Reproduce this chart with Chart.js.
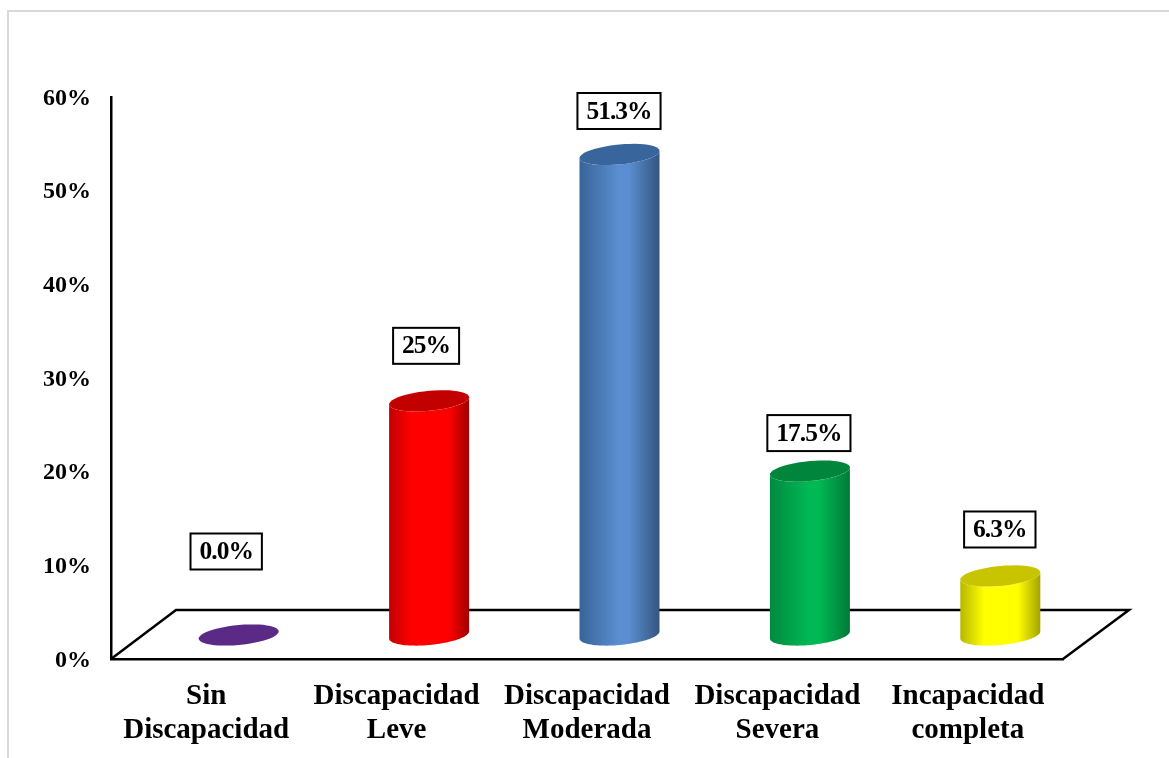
<!DOCTYPE html>
<html lang="es">
<head>
<meta charset="utf-8">
<title>Grado de discapacidad</title>
<script src="https://cdn.jsdelivr.net/npm/chart.js@4"></script>
<style>
  html, body { margin: 0; padding: 0; background: #ffffff; overflow: hidden; }
  canvas { display: block; }
</style>
</head>
<body>
<canvas id="chart" width="1169" height="758"></canvas>
<script>
// Chart data
const categories = [
  ["Sin", "Discapacidad"],
  ["Discapacidad", "Leve"],
  ["Discapacidad", "Moderada"],
  ["Discapacidad", "Severa"],
  ["Incapacidad", "completa"]
];
const percentages = [0, 25, 51.3, 17.5, 6.3];
const valueLabels = ["0.0%", "25%", "51.3%", "17.5%", "6.3%"];
const yTickMax = 60;
const yTickStep = 10;

// Cylinder colours: side-left, side-centre, side-right, cap
const flatColors = ["#5B2A86", "#FF0000", "#558ACB", "#00B050", "#FFFF00"];
const sideShades = [
  ["#5B2A86", "#5B2A86", "#5B2A86"],
  ["#C00000", "#FF0000", "#A00000"],
  ["#386398", "#5A8ED0", "#34557F"],
  ["#008A40", "#00B854", "#007A38"],
  ["#B8B800", "#FFFF00", "#A3A300"]
];
// Gradient stops where the bright band starts and ends
const brightBand = [[0.3, 0.7], [0.28, 0.74], [0.48, 0.62], [0.48, 0.62], [0.3, 0.72]];
const capColors = ["#5B2A86", "#C20000", "#38659B", "#00863C", "#C9C400"];

// Where each value box sits relative to the top of its cylinder
const labelShift = [[-12.5, -83.5], [-3, -55], [-0.5, -43.5], [-1, -38], [-0.5, -46.5]];

// Depth of the floor: the columns stand halfway along it
const FLOOR_DX = 65;
const FLOOR_DY = 49;
const BAR_LIFT = 24;
const SERIF = '"Liberation Serif", "Times New Roman", serif';

function ellipsePath(ctx, cx, cy, from, to, move) {
  // Slightly tilted ellipse, the left end lower than the right
  const rx = 40, tilt = 3.6, ry = 10, steps = 48;
  for (let i = 0; i <= steps; i++) {
    const t = from + (to - from) * i / steps;
    const x = cx + rx * Math.cos(t);
    const y = cy - tilt * Math.cos(t) + ry * Math.sin(t);
    if (i === 0 && move) ctx.moveTo(x, y); else ctx.lineTo(x, y);
  }
}

function drawCylinder(ctx, cx, top, base, index) {
  const left = cx - 40, right = cx + 40;
  if (base - top > 0.5) {
    const g = ctx.createLinearGradient(left, 0, right, 0);
    const s = sideShades[index];
    g.addColorStop(0, s[0]);
    g.addColorStop(brightBand[index][0], s[1]);
    g.addColorStop(brightBand[index][1], s[1]);
    g.addColorStop(1, s[2]);
    ctx.beginPath();
    ellipsePath(ctx, cx, base, Math.PI, 0, true);
    ellipsePath(ctx, cx, top, 0, Math.PI, false);
    ctx.closePath();
    ctx.fillStyle = g;
    ctx.fill();
  }
  ctx.beginPath();
  ellipsePath(ctx, cx, top, 0, Math.PI * 2, true);
  ctx.closePath();
  ctx.fillStyle = capColors[index];
  ctx.fill();
}

const scenePlugin = {
  id: "cylinderScene",
  beforeDraw(chart) {
    // Outer frame, open on the right and bottom edges
    const { ctx, width, height } = chart;
    ctx.save();
    ctx.strokeStyle = "#D9D9D9";
    ctx.lineWidth = 2;
    ctx.beginPath();
    ctx.moveTo(8, height);
    ctx.lineTo(8, 11);
    ctx.lineTo(width, 11);
    ctx.stroke();
    ctx.restore();
  },
  beforeDatasetsDraw(chart) {
    // Floor parallelogram behind the columns
    const { ctx, chartArea: a } = chart;
    ctx.save();
    ctx.strokeStyle = "#000000";
    ctx.lineWidth = 2.5;
    ctx.lineJoin = "miter";
    ctx.beginPath();
    ctx.moveTo(a.left, a.bottom);
    ctx.lineTo(a.left + FLOOR_DX, a.bottom - FLOOR_DY);
    ctx.lineTo(a.right + FLOOR_DX + 1, a.bottom - FLOOR_DY);
    ctx.lineTo(a.right, a.bottom);
    ctx.stroke();
    ctx.restore();
  },
  beforeDatasetDraw(chart, args) {
    // Replace the flat rectangles with shaded cylinders
    const { ctx } = chart;
    const meta = args.meta;
    ctx.save();
    meta.data.forEach((bar, i) => {
      drawCylinder(ctx, bar.x + FLOOR_DX / 2, bar.y - BAR_LIFT, bar.base - BAR_LIFT, i);
    });
    ctx.restore();
    return false;
  },
  afterDatasetsDraw(chart) {
    // Boxed value labels
    const { ctx } = chart;
    const meta = chart.getDatasetMeta(0);
    ctx.save();
    ctx.font = "bold 25.5px " + SERIF;
    ctx.letterSpacing = "-1px";
    ctx.textAlign = "center";
    ctx.textBaseline = "middle";
    meta.data.forEach((bar, i) => {
      const text = valueLabels[i];
      const cx = bar.x + FLOOR_DX / 2 + labelShift[i][0];
      const cy = bar.y - BAR_LIFT + labelShift[i][1];
      const w = ctx.measureText(text).width + 18;
      const h = 36;
      ctx.fillStyle = "#ffffff";
      ctx.fillRect(cx - w / 2, cy - h / 2, w, h);
      ctx.strokeStyle = "#000000";
      ctx.lineWidth = 2;
      ctx.strokeRect(cx - w / 2, cy - h / 2, w, h);
      ctx.fillStyle = "#000000";
      ctx.fillText(text, cx, cy + 1);
    });
    ctx.restore();
  }
};

new Chart(document.getElementById("chart"), {
  type: "bar",
  data: {
    labels: categories,
    datasets: [{
      data: percentages,
      backgroundColor: flatColors,
      barPercentage: 0.42,
      categoryPercentage: 1
    }]
  },
  options: {
    responsive: false,
    animation: false,
    events: [],
    layout: { padding: { top: 97, right: 106, left: 0, bottom: 0 } },
    plugins: { legend: { display: false }, tooltip: { enabled: false }, title: { display: false } },
    scales: {
      x: {
        afterFit(scale) { scale.height = 99; },
        grid: { display: false, drawTicks: false },
        border: { display: true, color: "#000000", width: 2.5 },
        ticks: {
          color: "#000000",
          font: { family: SERIF, size: 29, weight: "bold", lineHeight: 1.17 },
          padding: 21,
          maxRotation: 0,
          autoSkip: false
        }
      },
      y: {
        min: 0,
        max: yTickMax,
        afterFit(scale) { scale.width = 111; },
        grid: { display: false, drawTicks: false },
        border: { display: true, color: "#000000", width: 2.5 },
        ticks: {
          color: "#000000",
          font: { family: SERIF, size: 24, weight: "bold" },
          stepSize: yTickStep,
          padding: 20,
          labelOffset: 1.5,
          callback: (v) => v + "%"
        }
      }
    }
  },
  plugins: [scenePlugin]
});
</script>
</body>
</html>
